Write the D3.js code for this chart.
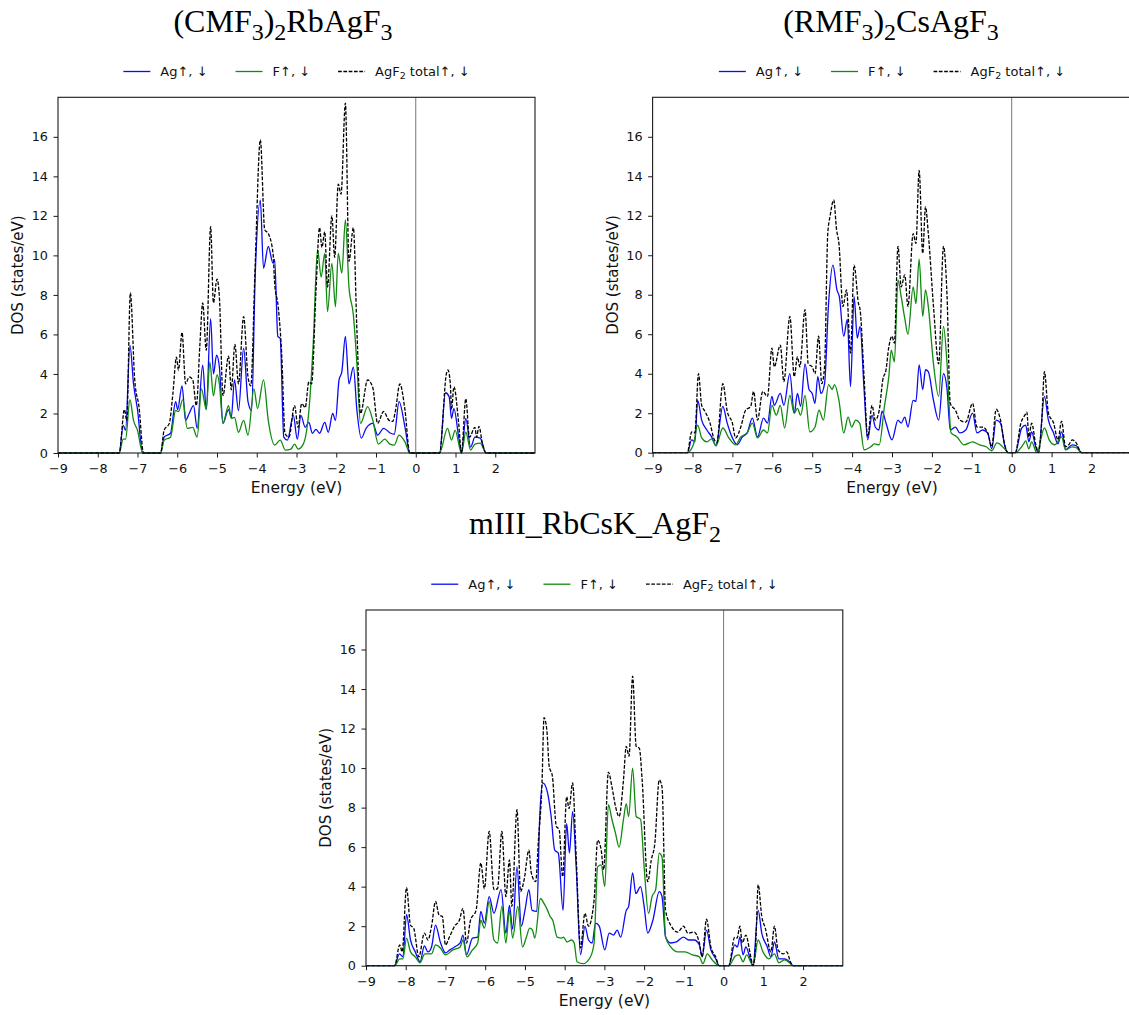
<!DOCTYPE html>
<html>
<head>
<meta charset="utf-8">
<script src="https://cdn.jsdelivr.net/npm/d3@7"></script>
<style>
  html, body { margin: 0; padding: 0; background: #fff; }
  svg { display: block; }
  text { font-family: "DejaVu Sans", sans-serif; fill: #111; }
  .title { font-family: "Liberation Serif", "Times New Roman", serif; fill: #000; }
</style>
</head>
<body>
<svg id="chart" width="1129" height="1015"></svg>
<script>
// Projected densities of states, [energy (eV), DOS (states/eV)]
const cmfAg = [[-9,0],[-7.46,0],[-7.36,1.4],[-7.3,1.15],[-7.19,5.45],[-7.1,3.5],[-7.0,2.2],[-6.87,0],[-6.42,0],[-6.33,0.8],[-6.17,1.0],[-6.04,2.6],[-5.99,2.2],[-5.88,3.4],[-5.79,1.65],[-5.70,2.0],[-5.59,2.4],[-5.5,1.25],[-5.36,4.45],[-5.27,2.2],[-5.16,6.8],[-5.09,4.0],[-5.01,4.95],[-4.94,4.35],[-4.85,1.5],[-4.71,2.2],[-4.64,1.8],[-4.56,3.7],[-4.46,2.15],[-4.33,5.3],[-4.22,2.6],[-4.13,2.15],[-4.04,8.9],[-3.91,12.8],[-3.83,9.35],[-3.71,10.45],[-3.59,9.6],[-3.55,9.8],[-3.47,5.9],[-3.41,5.8],[-3.32,0.8],[-3.23,0.65],[-3.08,1.9],[-2.98,0.7],[-2.89,1.9],[-2.78,1.3],[-2.69,1.55],[-2.6,1.0],[-2.51,1.2],[-2.42,1.0],[-2.29,1.55],[-2.2,1.05],[-2.09,2.0],[-2.02,1.65],[-1.93,3.7],[-1.86,4.1],[-1.77,5.9],[-1.68,3.5],[-1.57,4.35],[-1.48,2.15],[-1.37,0.75],[-1.25,1.25],[-1.08,1.5],[-0.96,0.9],[-0.81,1.25],[-0.63,1.0],[-0.54,0.95],[-0.42,2.6],[-0.27,1.3],[-0.15,0],[0.6,0],[0.75,3.05],[0.84,2.85],[0.9,1.75],[0.96,2.25],[1.08,0.8],[1.15,0],[1.26,1.75],[1.38,0.3],[1.49,0.8],[1.62,0.75],[1.77,0],[3,0]];
const cmfF = [[-9,0],[-7.46,0],[-7.36,0.7],[-7.3,0.7],[-7.19,2.7],[-7.1,1.65],[-7.0,1.15],[-6.87,0],[-6.42,0],[-6.33,0.65],[-6.17,0.8],[-6.04,2.15],[-5.97,2.1],[-5.86,2.7],[-5.75,1.25],[-5.61,1.3],[-5.5,0.8],[-5.39,3.25],[-5.27,2.2],[-5.18,4.6],[-5.09,2.9],[-5.0,3.95],[-4.94,3.5],[-4.85,1.5],[-4.71,2.4],[-4.64,1.75],[-4.56,1.8],[-4.46,1.05],[-4.33,1.65],[-4.22,0.9],[-4.07,3.25],[-3.98,2.25],[-3.83,3.7],[-3.71,1.65],[-3.55,0.4],[-3.41,0.65],[-3.28,0.15],[-3.14,0.2],[-3.05,0.45],[-2.96,0.2],[-2.83,0.45],[-2.69,2.1],[-2.58,5.5],[-2.47,10.3],[-2.38,8.9],[-2.29,10.1],[-2.22,7.15],[-2.11,9.6],[-2.02,7.4],[-1.95,10.1],[-1.86,9.1],[-1.77,11.8],[-1.68,8.4],[-1.57,7.0],[-1.48,4.5],[-1.39,1.5],[-1.21,2.35],[-1.08,1.65],[-0.94,0.45],[-0.78,0.7],[-0.65,0.45],[-0.54,0.4],[-0.42,0.9],[-0.27,0.55],[-0.15,0],[0.6,0],[0.8,1.25],[0.9,0.65],[0.99,1.15],[1.15,0],[1.26,1.05],[1.38,0.15],[1.49,0.45],[1.62,0.5],[1.77,0],[3,0]];
const cmfTotal = [[-9,0],[-7.46,0],[-7.33,2.2],[-7.27,1.65],[-7.18,8.1],[-7.07,3.7],[-6.96,2.3],[-6.85,0],[-6.42,0],[-6.33,1.15],[-6.2,1.5],[-6.11,3.0],[-6.02,4.85],[-5.97,4.2],[-5.88,6.1],[-5.79,3.5],[-5.70,3.85],[-5.61,3.7],[-5.52,2.4],[-5.43,5.5],[-5.36,7.6],[-5.27,5.2],[-5.16,11.45],[-5.09,7.6],[-5.0,8.8],[-4.94,7.9],[-4.85,2.9],[-4.71,4.9],[-4.64,3.2],[-4.55,5.5],[-4.46,3.5],[-4.33,6.9],[-4.22,3.85],[-4.15,3.4],[-4.04,9.5],[-3.91,15.85],[-3.8,11.3],[-3.71,11.1],[-3.59,10.1],[-3.55,8.6],[-3.46,7.4],[-3.37,4.9],[-3.29,1.0],[-3.19,0.8],[-3.05,2.4],[-2.96,1.3],[-2.87,2.5],[-2.78,2.3],[-2.69,3.6],[-2.62,3.5],[-2.51,8.2],[-2.42,11.4],[-2.36,10.4],[-2.29,11.2],[-2.22,8.4],[-2.11,12.0],[-2.04,9.9],[-1.95,13.6],[-1.88,13.1],[-1.77,17.7],[-1.68,9.7],[-1.57,11.4],[-1.48,6.2],[-1.39,2.0],[-1.21,3.7],[-1.08,3.3],[-0.96,1.5],[-0.81,2.1],[-0.67,1.65],[-0.58,1.6],[-0.51,2.15],[-0.40,3.5],[-0.27,2.15],[-0.15,0],[0.6,0],[0.77,4.0],[0.81,4.2],[0.87,3.5],[0.9,2.2],[0.96,3.35],[1.08,1.5],[1.15,0],[1.26,2.75],[1.35,0.8],[1.49,1.3],[1.53,0.8],[1.59,1.35],[1.68,0.45],[1.77,0],[3,0]];

const rmfAg = [[-9,0],[-8.13,0],[-8.02,0.65],[-7.94,0.55],[-7.87,2.65],[-7.77,1.65],[-7.64,1.15],[-7.52,0.8],[-7.41,0.35],[-7.24,2.35],[-7.13,1.5],[-7.0,0.75],[-6.88,0.4],[-6.75,0.8],[-6.63,1.0],[-6.5,1.75],[-6.37,0.8],[-6.22,1.75],[-6.12,1.5],[-6.01,2.85],[-5.95,2.4],[-5.80,3.0],[-5.71,2.4],[-5.56,4.0],[-5.45,2.0],[-5.37,3.0],[-5.29,2.35],[-5.18,4.5],[-5.08,3.2],[-5.0,3.0],[-4.93,2.5],[-4.86,3.85],[-4.78,3.0],[-4.69,3.5],[-4.59,7.55],[-4.48,9.5],[-4.38,8.25],[-4.32,7.9],[-4.21,5.9],[-4.12,6.75],[-4.04,3.35],[-3.95,7.9],[-3.87,5.8],[-3.80,6.4],[-3.70,3.2],[-3.61,0.65],[-3.50,1.9],[-3.42,1.3],[-3.33,1.15],[-3.25,2.1],[-3.15,1.5],[-3.0,0.65],[-2.85,1.65],[-2.77,1.5],[-2.68,1.8],[-2.60,1.3],[-2.47,2.65],[-2.40,2.6],[-2.32,4.45],[-2.23,3.2],[-2.16,4.2],[-2.09,4.1],[-1.96,2.65],[-1.83,1.65],[-1.71,4.0],[-1.62,3.2],[-1.54,1.15],[-1.41,1.3],[-1.30,1.0],[-1.15,1.15],[-0.98,2.0],[-0.87,1.0],[-0.73,1.15],[-0.6,1.0],[-0.5,0.2],[-0.39,1.65],[-0.28,1.5],[-0.18,0.4],[-0.09,0],[0.09,0],[0.25,1.25],[0.35,1.4],[0.43,0.55],[0.5,1.05],[0.6,0.3],[0.67,0],[0.82,2.85],[0.92,1.65],[1.05,1.0],[1.16,0.45],[1.25,1.05],[1.35,0.15],[1.52,0.4],[1.62,0.35],[1.75,0],[3,0]];
const rmfF = [[-9,0],[-8.13,0],[-7.98,0.4],[-7.87,1.4],[-7.77,0.75],[-7.64,0.55],[-7.52,0.7],[-7.41,0.35],[-7.24,1.25],[-7.09,0.75],[-6.92,0.4],[-6.79,0.8],[-6.63,1.0],[-6.5,1.5],[-6.37,0.75],[-6.22,1.15],[-6.12,1.0],[-6.01,2.4],[-5.90,1.9],[-5.80,2.4],[-5.69,1.25],[-5.56,2.9],[-5.45,2.0],[-5.37,2.25],[-5.29,1.9],[-5.18,2.9],[-5.06,1.05],[-4.93,1.3],[-4.83,2.15],[-4.72,1.65],[-4.59,3.45],[-4.5,3.2],[-4.44,3.45],[-4.33,2.65],[-4.21,1.0],[-4.10,1.8],[-4.01,1.3],[-3.91,1.65],[-3.81,1.5],[-3.70,0.15],[-3.53,0.3],[-3.44,0.45],[-3.32,0.4],[-3.19,2.35],[-3.08,3.85],[-3.02,5.2],[-2.94,4.6],[-2.85,8.75],[-2.77,7.9],[-2.68,6.8],[-2.60,6.0],[-2.47,8.4],[-2.40,7.55],[-2.32,9.8],[-2.23,6.9],[-2.16,8.25],[-2.09,7.4],[-1.96,4.5],[-1.83,2.85],[-1.71,6.4],[-1.62,4.5],[-1.52,1.0],[-1.37,0.8],[-1.2,0.4],[-0.98,0.55],[-0.81,0.4],[-0.64,0.3],[-0.5,0.1],[-0.37,0.5],[-0.18,0.2],[-0.09,0],[0.09,0],[0.3,0.45],[0.35,0.6],[0.43,0.2],[0.5,0.55],[0.63,0],[0.82,1.25],[0.94,0.65],[1.08,0.4],[1.25,0.8],[1.35,0.15],[1.52,0.3],[1.62,0.25],[1.75,0],[3,0]];
const rmfTotal = [[-9,0],[-8.13,0],[-8.02,1.05],[-7.94,1.0],[-7.85,4.0],[-7.77,2.4],[-7.69,2.1],[-7.56,1.5],[-7.47,0.75],[-7.39,0.5],[-7.24,3.5],[-7.13,2.1],[-7.0,1.5],[-6.92,0.75],[-6.79,1.3],[-6.67,2.15],[-6.54,2.35],[-6.47,3.1],[-6.37,1.65],[-6.24,3.1],[-6.12,2.85],[-6.01,5.3],[-5.95,4.35],[-5.80,5.45],[-5.71,3.6],[-5.56,6.9],[-5.45,3.85],[-5.37,4.85],[-5.31,4.35],[-5.18,7.25],[-5.1,4.5],[-5.0,4.35],[-4.93,4.0],[-4.84,5.9],[-4.76,3.5],[-4.69,4.35],[-4.61,11.1],[-4.55,12.0],[-4.46,12.8],[-4.39,11.3],[-4.33,10.6],[-4.23,7.4],[-4.14,8.25],[-4.04,5.05],[-3.95,9.5],[-3.84,7.55],[-3.8,7.25],[-3.70,3.85],[-3.61,0.8],[-3.50,2.4],[-3.42,1.65],[-3.32,2.15],[-3.23,3.7],[-3.15,4.2],[-3.08,5.35],[-3.0,5.9],[-2.94,5.55],[-2.85,10.45],[-2.77,8.4],[-2.68,9.0],[-2.60,7.4],[-2.47,11.1],[-2.40,10.6],[-2.32,14.3],[-2.23,10.1],[-2.16,12.45],[-2.09,11.1],[-1.96,7.4],[-1.83,4.5],[-1.71,10.45],[-1.62,7.9],[-1.54,2.5],[-1.41,2.15],[-1.30,1.65],[-1.15,1.55],[-0.98,2.5],[-0.87,1.3],[-0.73,1.3],[-0.6,1.0],[-0.5,0.3],[-0.39,2.2],[-0.28,1.65],[-0.18,0.45],[-0.09,0],[0.09,0],[0.23,1.5],[0.33,1.9],[0.38,2.05],[0.43,0.8],[0.5,1.5],[0.6,0.45],[0.67,0],[0.75,1.5],[0.82,4.1],[0.92,2.0],[1.05,1.5],[1.16,0.65],[1.25,1.6],[1.35,0.3],[1.43,0.4],[1.52,0.65],[1.6,0.55],[1.75,0],[3,0]];

const m3Ag = [[-9,0],[-8.28,0],[-8.16,0.6],[-8.07,0.45],[-7.98,2.6],[-7.88,1.3],[-7.76,0.7],[-7.64,0.2],[-7.53,1.0],[-7.44,0.7],[-7.35,0.95],[-7.25,2.05],[-7.13,1.2],[-7.0,0.65],[-6.89,0.8],[-6.77,0.95],[-6.63,1.15],[-6.56,1.55],[-6.47,0.55],[-6.32,1.4],[-6.19,1.45],[-6.11,2.75],[-6.02,2.15],[-5.90,3.5],[-5.78,2.65],[-5.6,3.85],[-5.48,1.65],[-5.39,3.05],[-5.31,1.85],[-5.20,5.0],[-5.09,2.0],[-5.0,2.8],[-4.90,3.85],[-4.82,2.8],[-4.7,2.75],[-4.63,7.4],[-4.55,9.25],[-4.43,8.75],[-4.34,7.55],[-4.25,5.85],[-4.16,5.7],[-4.04,2.8],[-3.95,7.2],[-3.88,5.7],[-3.80,7.8],[-3.71,5.0],[-3.60,0.55],[-3.49,2.0],[-3.40,1.3],[-3.31,1.15],[-3.22,2.15],[-3.13,2.0],[-2.99,0.8],[-2.88,1.65],[-2.77,1.55],[-2.68,1.8],[-2.59,1.45],[-2.45,2.8],[-2.39,3.0],[-2.29,4.7],[-2.21,3.65],[-2.09,4.0],[-2.0,3.0],[-1.91,1.65],[-1.78,2.3],[-1.62,3.75],[-1.55,3.5],[-1.46,1.45],[-1.33,1.15],[-1.19,1.2],[-1.01,1.45],[-0.88,1.3],[-0.74,1.3],[-0.61,1.05],[-0.54,0.45],[-0.43,1.8],[-0.32,0.8],[-0.2,0.35],[-0.11,0],[0.13,0],[0.28,1.05],[0.35,0.95],[0.41,1.45],[0.49,0.55],[0.56,0.95],[0.67,0.35],[0.74,0],[0.87,2.8],[0.96,1.65],[1.1,0.95],[1.19,0.45],[1.28,1.2],[1.39,0.35],[1.54,0.35],[1.68,0.15],[1.75,0],[3,0]];
const m3F = [[-9,0],[-8.28,0],[-8.15,0.35],[-8.07,0.35],[-7.98,1.4],[-7.88,0.7],[-7.76,0.45],[-7.64,0.15],[-7.52,0.6],[-7.35,0.6],[-7.25,1.05],[-7.13,0.9],[-7.0,0.55],[-6.81,0.8],[-6.63,0.95],[-6.56,1.3],[-6.46,0.45],[-6.32,0.8],[-6.19,1.15],[-6.11,2.3],[-6.02,1.9],[-5.90,3.25],[-5.78,1.3],[-5.69,1.15],[-5.58,3.0],[-5.48,1.15],[-5.39,2.8],[-5.31,1.4],[-5.18,3.0],[-5.06,0.95],[-4.97,1.4],[-4.88,1.9],[-4.81,1.8],[-4.75,1.4],[-4.61,3.4],[-4.52,3.15],[-4.43,2.8],[-4.37,2.5],[-4.30,2.3],[-4.19,1.45],[-4.07,1.4],[-4.03,1.45],[-3.94,1.2],[-3.83,1.3],[-3.76,1.15],[-3.69,0.2],[-3.53,0.1],[-3.35,0.45],[-3.26,1.15],[-3.17,5.0],[-3.08,5.1],[-2.99,4.0],[-2.90,8.15],[-2.81,7.4],[-2.72,6.7],[-2.63,6.0],[-2.52,7.4],[-2.45,8.2],[-2.39,7.55],[-2.29,10.0],[-2.20,7.55],[-2.09,7.4],[-2.0,5.0],[-1.89,2.65],[-1.80,3.5],[-1.71,3.85],[-1.62,5.7],[-1.55,5.5],[-1.46,1.45],[-1.33,0.95],[-1.15,0.7],[-0.97,0.7],[-0.79,0.55],[-0.61,0.45],[-0.52,0.1],[-0.41,0.6],[-0.29,0.3],[-0.11,0],[0.13,0],[0.3,0.5],[0.39,0.55],[0.49,0.2],[0.58,0.55],[0.74,0],[0.87,1.3],[0.99,0.7],[1.14,0.35],[1.28,0.6],[1.39,0.15],[1.54,0.3],[1.68,0.1],[1.75,0],[3,0]];
const m3Total = [[-9,0],[-8.28,0],[-8.15,1.05],[-8.09,0.7],[-7.98,3.95],[-7.88,2.05],[-7.80,1.9],[-7.67,0.45],[-7.53,1.65],[-7.44,1.3],[-7.35,2.0],[-7.25,3.25],[-7.16,2.55],[-7.08,2.5],[-7.0,1.05],[-6.9,1.45],[-6.77,2.0],[-6.65,2.3],[-6.56,2.9],[-6.47,1.15],[-6.37,2.3],[-6.23,2.8],[-6.11,5.2],[-6.02,3.9],[-5.90,6.8],[-5.78,3.85],[-5.69,3.9],[-5.58,6.8],[-5.48,3.5],[-5.39,5.35],[-5.33,3.0],[-5.20,7.9],[-5.11,3.75],[-5.02,4.35],[-4.90,5.85],[-4.84,4.7],[-4.73,4.25],[-4.66,6.35],[-4.57,9.25],[-4.52,12.55],[-4.45,11.95],[-4.39,10.1],[-4.31,9.6],[-4.21,7.05],[-4.14,6.9],[-4.05,4.5],[-3.95,8.55],[-3.89,7.95],[-3.80,9.25],[-3.71,5.5],[-3.60,0.9],[-3.49,2.65],[-3.40,2.0],[-3.26,3.3],[-3.17,6.35],[-3.08,5.85],[-3.02,4.85],[-2.90,9.8],[-2.81,9.05],[-2.72,8.05],[-2.63,7.55],[-2.52,9.4],[-2.45,11.1],[-2.38,10.6],[-2.29,14.65],[-2.20,11.1],[-2.12,11.0],[-2.05,9.4],[-1.91,4.25],[-1.82,5.35],[-1.73,6.2],[-1.62,9.4],[-1.55,9.05],[-1.46,2.8],[-1.33,2.05],[-1.15,1.7],[-1.01,2.0],[-0.9,1.65],[-0.74,1.7],[-0.61,1.15],[-0.54,0.45],[-0.43,2.35],[-0.32,0.95],[-0.2,0.45],[-0.11,0],[0.13,0],[0.28,1.45],[0.34,1.4],[0.41,2.0],[0.47,1.15],[0.56,1.55],[0.67,0.6],[0.74,0],[0.81,1.15],[0.87,4.1],[0.96,2.5],[1.05,1.9],[1.19,0.7],[1.28,2.0],[1.37,0.8],[1.5,0.6],[1.59,0.7],[1.68,0.2],[1.75,0],[3,0]];

// Axis ticks and labels
const xTicks = [-9, -8, -7, -6, -5, -4, -3, -2, -1, 0, 1, 2];
const yTicks = [0, 2, 4, 6, 8, 10, 12, 14, 16];
const xDomain = [-9, 3];
const yDomain = [0, 18];
const xLabel = "Energy (eV)";
const yLabel = "DOS (states/eV)";

// Titles as [text, isSubscript] runs
const titleCmf = [["(CMF", 0], ["3", 1], [")", 0], ["2", 1], ["RbAgF", 0], ["3", 1]];
const titleRmf = [["(RMF", 0], ["3", 1], [")", 0], ["2", 1], ["CsAgF", 0], ["3", 1]];
const titleM3 = [["mIII_RbCsK_AgF", 0], ["2", 1]];

// Legend entries as runs
const seriesNames = ["Ag", "F", "total"];
const legendRuns = [
  [["Ag↑, ↓", 0]],
  [["F↑, ↓", 0]],
  [["AgF", 0], ["2", 1], [" total↑, ↓", 0]]
];

const seriesStyle = {
  Ag:    { stroke: "#0a0af5", dash: null },
  F:     { stroke: "#108a10", dash: null },
  total: { stroke: "#000000", dash: "3.7,1.6" }
};

const panels = [
  { title: titleCmf, series: { Ag: cmfAg, F: cmfF, total: cmfTotal },
    box: { left: 58, right: 535, top: 97.3, bottom: 453 }, titleX: 283, titleY: 32.3 },
  { title: titleRmf, series: { Ag: rmfAg, F: rmfF, total: rmfTotal },
    box: { left: 652.6, right: 1131.4, top: 97.3, bottom: 452.7 }, titleX: 891, titleY: 32.3 },
  { title: titleM3, series: { Ag: m3Ag, F: m3F, total: m3Total },
    box: { left: 366, right: 842.8, top: 610, bottom: 965.7 }, titleX: 595, titleY: 534.3 }
];

const svg = d3.select("#chart");

function addRuns(textSel, runs, subSize, subShift) {
  runs.forEach(([t, sub], i) => {
    const prevSub = i > 0 ? runs[i - 1][1] : 0;
    const ts = textSel.append("tspan").text(t);
    let dy = 0;
    if (sub && !prevSub) dy = subShift;
    if (!sub && prevSub) dy = -subShift;
    if (dy) ts.attr("dy", dy);
    if (sub) ts.style("font-size", subSize + "px");
  });
}

panels.forEach(p => {
  const b = p.box;
  const x = d3.scaleLinear().domain(xDomain).range([b.left, b.right]);
  const y = d3.scaleLinear().domain(yDomain).range([b.bottom, b.top]);
  const g = svg.append("g");
  const cx = (b.left + b.right) / 2;

  // title
  const title = g.append("text").attr("class", "title")
    .attr("x", p.titleX).attr("y", p.titleY)
    .attr("text-anchor", "middle").style("font-size", "32px");
  addRuns(title, p.title, 24, 8);

  // zero-energy marker
  g.append("line")
    .attr("x1", x(0)).attr("x2", x(0))
    .attr("y1", b.top).attr("y2", b.bottom)
    .attr("stroke", "#777").attr("stroke-width", 1);

  // curves
  const line = d3.line()
    .x(d => x(d[0])).y(d => y(d[1]))
    .curve(d3.curveMonotoneX);
  seriesNames.forEach(name => {
    const st = seriesStyle[name];
    g.append("path")
      .datum(p.series[name])
      .attr("d", line)
      .attr("fill", "none")
      .attr("stroke", st.stroke)
      .attr("stroke-width", 1.3)
      .attr("stroke-linejoin", "round")
      .attr("stroke-dasharray", st.dash);
  });

  // frame
  g.append("rect")
    .attr("x", b.left).attr("y", b.top)
    .attr("width", b.right - b.left).attr("height", b.bottom - b.top)
    .attr("fill", "none").attr("stroke", "#1a1a1a").attr("stroke-width", 1.1);

  // axes
  const xAxis = g.append("g").attr("transform", `translate(0,${b.bottom})`)
    .call(d3.axisBottom(x).tickValues(xTicks).tickSize(4.5).tickPadding(6.5)
      .tickFormat(d3.format("d")));
  const yAxis = g.append("g").attr("transform", `translate(${b.left},0)`)
    .call(d3.axisLeft(y).tickValues(yTicks).tickSize(4.5).tickPadding(5.5)
      .tickFormat(d3.format("d")));
  [xAxis, yAxis].forEach(a => {
    a.select(".domain").remove();
    a.selectAll(".tick line").attr("stroke", "#1a1a1a");
    a.selectAll(".tick text").style("font-size", "12.8px").style("font-family", "DejaVu Sans").attr("fill", "#111");
  });

  // axis labels
  g.append("text").attr("x", cx).attr("y", b.bottom + 40)
    .attr("text-anchor", "middle").style("font-size", "15.5px").text(xLabel);
  g.append("text")
    .attr("transform", `translate(${b.left - 40},${(b.top + b.bottom) / 2}) rotate(-90)`)
    .attr("text-anchor", "middle").attr("dy", "0.35em")
    .style("font-size", "15px").text(yLabel);

  // legend above the frame, centred on the plot
  const ly = b.top - 25.8;
  const lg = g.append("g");
  const items = [];
  let cursor = 0;
  seriesNames.forEach((name, i) => {
    const st = seriesStyle[name];
    const it = lg.append("g");
    it.append("line").attr("x1", 0).attr("x2", 27).attr("y1", 0).attr("y2", 0)
      .attr("stroke", st.stroke).attr("stroke-width", 1.3)
      .attr("stroke-dasharray", st.dash);
    const t = it.append("text").attr("x", 37).attr("dy", "0.35em").style("font-size", "13px");
    addRuns(t, legendRuns[i], 9.5, 2.5);
    const w = 37 + t.node().getComputedTextLength();
    items.push({ node: it, offset: cursor });
    cursor += w + 28;
  });
  const total = cursor - 28;
  items.forEach(it => it.node.attr("transform", `translate(${cx - total / 2 + it.offset},${ly})`));
});
</script>
</body>
</html>
